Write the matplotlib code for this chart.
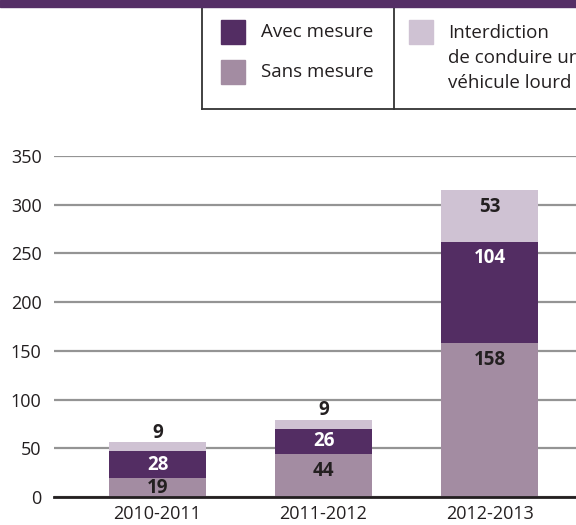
import matplotlib
matplotlib.use("Agg")
import matplotlib.pyplot as plt
from matplotlib.patches import Rectangle
from matplotlib.lines import Line2D

plt.rcParams['font.family'] = ['Open Sans', 'DejaVu Sans']

periods = ["2010-2011", "2011-2012", "2012-2013"]
sans_mesure = [19, 44, 158]
avec_mesure = [28, 26, 104]
interdiction = [9, 9, 53]
yticks = [0, 50, 100, 150, 200, 250, 300, 350]

c_dark = "#532d63"
c_mid = "#a38ca2"
c_light = "#cfc2d3"
c_text = "#231f20"

W, H = 576, 525
fig = plt.figure(figsize=(W / 100, H / 100), dpi=100)

# pixel helpers for figure-level decoration
def fx(x):
    return x / W

def fy(y):
    return 1 - y / H

ax = fig.add_axes([fx(54), fy(497), 1 - fx(54), (497 - 156) / H])
ax.set_xlim(-0.623, 2.52)
ax.set_ylim(0, 350)

x = range(len(periods))
bw = 0.584
ax.bar(x, sans_mesure, bw, color=c_mid, zorder=3)
ax.bar(x, avec_mesure, bw, bottom=sans_mesure, color=c_dark, zorder=3)
tops = [a + b for a, b in zip(sans_mesure, avec_mesure)]
ax.bar(x, interdiction, bw, bottom=tops, color=c_light, zorder=3)

for i in x:
    segs = [(0, sans_mesure[i], c_text), (sans_mesure[i], avec_mesure[i], "white"),
            (tops[i], interdiction[i], c_text)]
    for k, (b, h, col) in enumerate(segs):
        if k == 2 and h < 20:
            yy = b + h + 10
        else:
            yy = max(b + h / 2, b + h - 17)
        ax.text(i, yy, str(h), ha="center", va="center", fontsize=13.5,
                fontweight="bold", color=col, zorder=4)

ax.set_yticks(yticks)
ax.set_yticklabels([str(t) for t in yticks])
ax.set_xticks(list(x))
ax.set_xticklabels(periods)
ax.tick_params(length=0, labelsize=13, colors=c_text)
ax.tick_params(axis="y", pad=9)
ax.tick_params(axis="x", pad=6)
ax.grid(axis="y", color="#949494", linewidth=1.6, zorder=1)
for s in ["top", "right", "left"]:
    ax.spines[s].set_visible(False)
ax.spines["bottom"].set_color(c_text)
ax.spines["bottom"].set_linewidth(2)
ax.spines["bottom"].set_zorder(5)

# top band
fig.patches.append(Rectangle((0, fy(7)), 1, 7 / H, transform=fig.transFigure,
                             color="#552f66", zorder=2))

# legend box
lc = "#333333"
fig.add_artist(Line2D([fx(202), fx(202)], [fy(7), fy(109)], color=lc, lw=1.3))
fig.add_artist(Line2D([fx(202), 1], [fy(109), fy(109)], color=lc, lw=1.3))
fig.add_artist(Line2D([fx(394), fx(394)], [fy(7), fy(109)], color=lc, lw=1.3))

legend_items = [("Avec mesure", c_dark, 221, 20), ("Sans mesure", c_mid, 221, 60)]
for label, col, lx, ly in legend_items:
    fig.patches.append(Rectangle((fx(lx), fy(ly + 24)), 24 / W, 24 / H,
                                 transform=fig.transFigure, color=col))
    fig.text(fx(261), fy(ly + 12), label, fontsize=13.5, color=c_text, va="center")

fig.patches.append(Rectangle((fx(409), fy(44)), 24 / W, 24 / H,
                             transform=fig.transFigure, color=c_light))
for j, line in enumerate(["Interdiction", "de conduire un", "véhicule lourd"]):
    fig.text(fx(448), fy(33 + 25 * j), line, fontsize=13.5, color=c_text, va="center")

fig.savefig("out.png", dpi=100)
